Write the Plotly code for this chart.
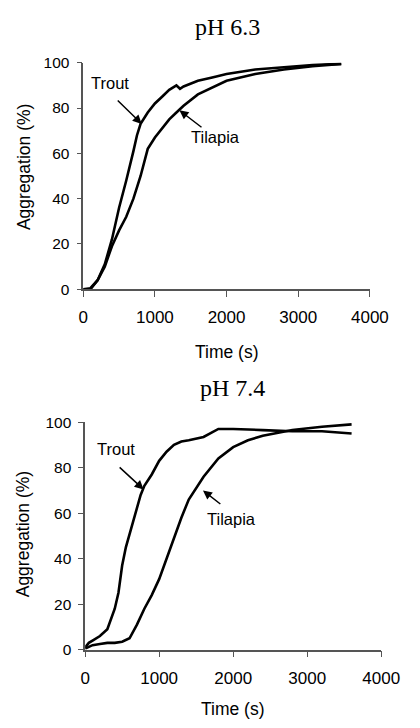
import plotly.graph_objects as go

# ---- data ----
t_trout_63 = [0, 100, 200, 300, 400, 500, 600, 650, 700, 750, 800, 900, 1000, 1100, 1200, 1300, 1350, 1400, 1600, 1800, 2000, 2400, 2800, 3200, 3600]
y_trout_63 = [0, 0.5, 4, 11, 22, 36, 48, 54, 61, 68, 73, 78, 82, 85, 88, 90, 88.5, 89.5, 92, 93.5, 95, 97, 98, 99, 99.5]

t_tilapia_63 = [0, 100, 200, 300, 400, 500, 600, 700, 800, 900, 1000, 1100, 1200, 1300, 1400, 1600, 1800, 2000, 2400, 2800, 3200, 3600]
y_tilapia_63 = [0, 0, 4, 10, 19, 26, 32, 40, 50, 62, 67, 71, 75, 78, 81, 86, 89, 92, 95, 97, 98.5, 99.5]

t_trout_74 = [0, 50, 100, 200, 300, 400, 450, 500, 550, 600, 650, 700, 750, 800, 900, 1000, 1100, 1200, 1300, 1400, 1600, 1800, 2000, 2400, 2800, 3200, 3600]
y_trout_74 = [1, 3, 4, 6, 9, 18, 25, 37, 45, 51, 56, 63, 68, 72, 77, 83, 87, 90, 91.5, 92, 93.5, 97, 97, 96.5, 96, 96, 95]

t_tilapia_74 = [0, 100, 200, 300, 400, 500, 600, 650, 700, 800, 900, 1000, 1100, 1200, 1300, 1400, 1500, 1600, 1800, 2000, 2200, 2400, 2800, 3200, 3600]
y_tilapia_74 = [0.5, 2, 2.5, 3, 3, 3.5, 5, 8, 11, 18, 24, 31, 40, 49, 58, 66, 71, 76, 84, 89, 92, 94, 96.5, 98, 99]

x_ticks = [0, 1000, 2000, 3000, 4000]
y_ticks = [0, 20, 40, 60, 80, 100]
titles = ["pH 6.3", "pH 7.4"]

W, H = 420, 728

fig = go.Figure()
line = dict(color="black", width=2.6)
fig.add_trace(go.Scatter(x=t_trout_63, y=y_trout_63, mode="lines", line=line, xaxis="x", yaxis="y", name="Trout"))
fig.add_trace(go.Scatter(x=t_tilapia_63, y=y_tilapia_63, mode="lines", line=line, xaxis="x", yaxis="y", name="Tilapia"))
fig.add_trace(go.Scatter(x=t_trout_74, y=y_trout_74, mode="lines", line=line, xaxis="x2", yaxis="y2", name="Trout"))
fig.add_trace(go.Scatter(x=t_tilapia_74, y=y_tilapia_74, mode="lines", line=line, xaxis="x2", yaxis="y2", name="Tilapia"))

ARIAL = "Liberation Sans, Arial"
xtickfont = dict(family=ARIAL, size=17, color="black")
ytickfont = dict(family=ARIAL, size=15.5, color="black")
xcommon = dict(range=[0, 4000], tickvals=x_ticks, showline=True, linecolor="#555", linewidth=1.5,
               ticks="outside", ticklen=6, tickcolor="#555", showgrid=False, zeroline=False,
               tickfont=xtickfont, ticklabelstandoff=6)
ycommon = dict(range=[0, 100], tickvals=y_ticks, showline=True, linecolor="#555", linewidth=1.5,
               ticks="outside", ticklen=5, tickcolor="#555", showgrid=False, zeroline=False,
               tickfont=ytickfont, ticklabelstandoff=4)

def px(v):
    return v / W

def py(v):
    return 1 - v / H

fig.update_layout(
    width=W, height=H, margin=dict(l=0, r=0, t=0, b=0),
    paper_bgcolor="white", plot_bgcolor="white", showlegend=False,
    xaxis=dict(domain=[px(83), px(387)], anchor="y", **xcommon),
    yaxis=dict(domain=[py(287), py(55)], anchor="x", **ycommon),
    xaxis2=dict(domain=[px(85), px(399)], anchor="y2", **xcommon),
    yaxis2=dict(domain=[py(656), py(423)], anchor="x2", **ycommon),
)

ann = []
C = dict(xanchor="center", yanchor="middle", showarrow=False)
label_font = dict(family=ARIAL, size=16.5, color="black")
axis_font = dict(family=ARIAL, size=17.5, color="black")
title_font = dict(family="Liberation Serif, Times New Roman", size=24, color="black")
# titles
ann.append(dict(text=titles[0], x=px(235.5), y=py(18), xref="paper", yref="paper", font=title_font, **C))
ann.append(dict(text=titles[1], x=px(241), y=py(388), xref="paper", yref="paper", font=title_font, **C))
# axis titles
for yc in (162, 538):
    ann.append(dict(text="Aggregation (%)", x=px(20), y=py(yc), xref="paper", yref="paper",
                    textangle=-90, font=axis_font, **C))
ann.append(dict(text="Time (s)", x=px(235), y=py(351), xref="paper", yref="paper", font=axis_font, **C))
ann.append(dict(text="Time (s)", x=px(242), y=py(717), xref="paper", yref="paper", font=axis_font, **C))

# series labels with arrows
arrow = dict(showarrow=True, arrowhead=2, arrowsize=1.2, arrowwidth=1.5, arrowcolor="black", text="")
ann.append(dict(x=816, y=73, ax=460, ay=84, xref="x", yref="y", axref="x", ayref="y", **arrow))
ann.append(dict(x=1342, y=79, ax=1671, ay=71, xref="x", yref="y", axref="x", ayref="y", **arrow))
ann.append(dict(x=790, y=70.4, ax=446, ay=80.7, xref="x2", yref="y2", axref="x2", ayref="y2", **arrow))
ann.append(dict(x=1592, y=70, ax=1847, ay=63.5, xref="x2", yref="y2", axref="x2", ayref="y2", **arrow))
ann.append(dict(text="Trout", x=380, y=91, xref="x", yref="y", font=label_font, **C))
ann.append(dict(text="Tilapia", x=1842, y=67, xref="x", yref="y", font=label_font, **C))
ann.append(dict(text="Trout", x=420, y=88, xref="x2", yref="y2", font=label_font, **C))
ann.append(dict(text="Tilapia", x=1975, y=57.5, xref="x2", yref="y2", font=label_font, **C))

fig.update_layout(annotations=ann)
fig.write_html("out.html")
